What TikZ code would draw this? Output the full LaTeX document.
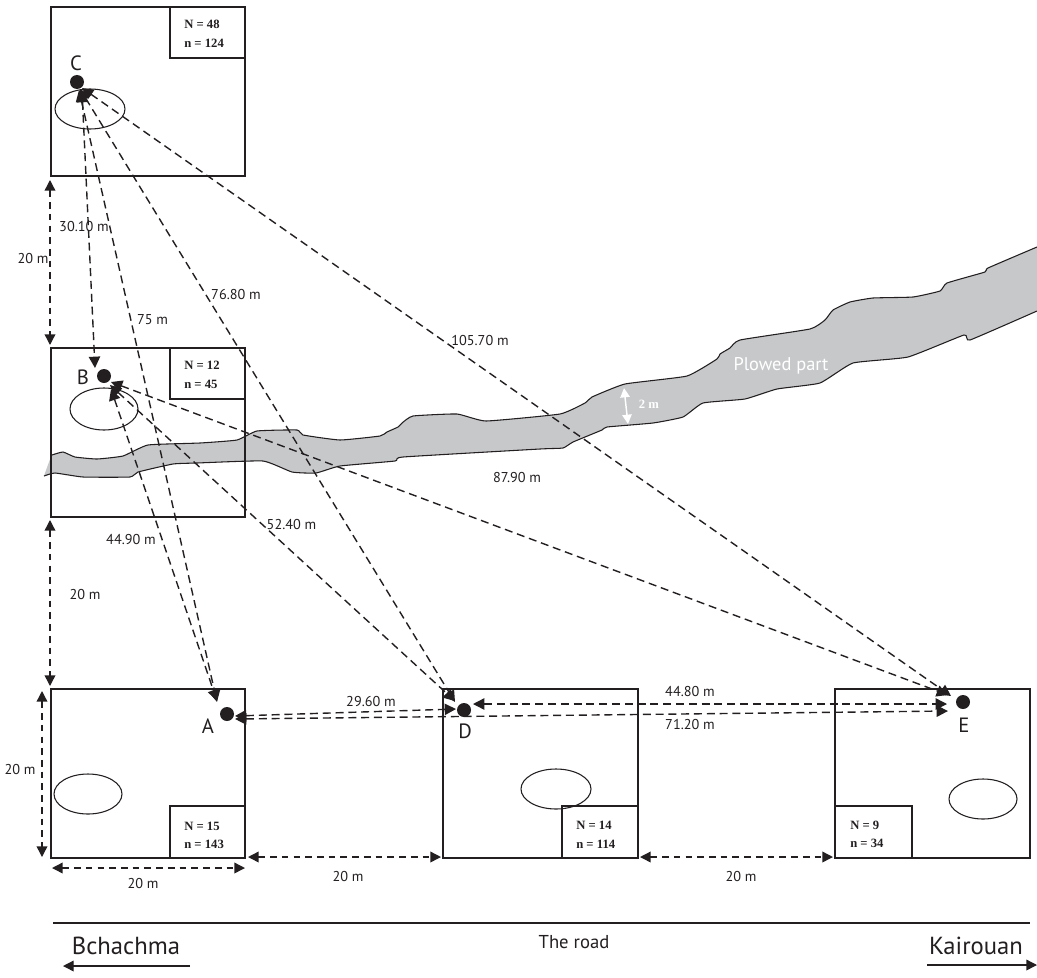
\documentclass[tikz,border=0pt]{standalone}
\usepackage{fontspec}
\setmainfont{PT Sans}
\newfontfamily\serifb{Liberation Serif}[BoldFont={Liberation Serif Bold}]
\usetikzlibrary{arrows.meta}
\definecolor{plow}{HTML}{C7C8CA}
\definecolor{ink}{HTML}{231F20}
\tikzset{
 plot box/.style={draw=ink,line width=0.85pt,fill=none},
 inset/.style={draw=ink,line width=0.85pt,fill=white},
 hole/.style={draw=ink,line width=0.8pt},
 pointdot/.style={circle,fill=ink,inner sep=0pt,minimum size=10.5pt},
 dist/.style={draw=ink,line width=1.05pt,dash pattern=on 6pt off 3.6pt,{Triangle[length=8.5pt,width=8.5pt]}-{Triangle[length=8.5pt,width=8.5pt]}},
 dim/.style={draw=ink,line width=1.05pt,dash pattern=on 5pt off 3.8pt,{Triangle[length=8pt,width=8pt]}-{Triangle[length=8pt,width=8pt]}},
 lab/.style={font=\fontsize{10.7}{13}\selectfont,text=ink,inner sep=0pt},
 letter/.style={font=\fontsize{15.5}{18}\selectfont,text=ink,inner sep=0pt},
 city/.style={font=\fontsize{18.5}{22}\selectfont,text=ink,inner sep=0pt},
 count/.style={font=\serifb\bfseries\fontsize{9.5}{14}\selectfont,text=ink,align=left,inner sep=0pt,anchor=west},
 edge line/.style={draw=ink,line width=0.8pt},
 white lab/.style={text=white,inner sep=0pt},
}
\begin{document}
\begin{tikzpicture}[x=0.75pt,y=-0.75pt]
\useasboundingbox (0,0) rectangle (1037,977);
% plowed strip
\def\toppts{(44,476) (52,455) (63,452) (75,457) (97,459) (123,456) (148,445) (200,443) (237,440) (257,431) (297,430) (303,435) (340,440) (380,436) (387,432) (398,427) (402,423) (413,416) (457,414) (486,421) (560,414) (585,403) (592,397) (625,384) (687,376) (717,359) (720,354) (730,348) (740,340) (810,329) (825,320) (833,310) (850,302) (873,298) (913,297) (940,291) (947,283) (985,272) (988,268) (1037,247)}
\def\botpts{(1037,311) (970,340) (964,335) (908,357) (853,363) (820,383) (777,389) (745,399) (703,403) (683,417) (653,423) (607,427) (602,430) (573,442) (563,448) (540,449) (403,457) (395,461) (340,466) (316,473) (292,472) (263,461) (197,463) (173,464) (138,472) (130,477) (83,477) (55,473) (44,476)}
\fill[plow] plot[smooth,tension=0.25] coordinates {\toppts} -- plot[smooth,tension=0.25] coordinates {\botpts} -- cycle;
\draw[edge line] plot[smooth,tension=0.25] coordinates {(52,455) (63,452) (75,457) (97,459) (123,456) (148,445) (200,443) (237,440) (257,431) (297,430) (303,435) (340,440) (380,436) (387,432) (398,427) (402,423) (413,416) (457,414) (486,421) (560,414) (585,403) (592,397) (625,384) (687,376) (717,359) (720,354) (730,348) (740,340) (810,329) (825,320) (833,310) (850,302) (873,298) (913,297) (940,291) (947,283) (985,272) (988,268) (1037,247)};
\draw[edge line] plot[smooth,tension=0.25] coordinates {\botpts};
% plots
\draw[plot box] (51,7) rectangle (245,176);
\draw[plot box] (51,348) rectangle (245,517);
\draw[plot box] (51,689) rectangle (245,858);
\draw[plot box] (443,689) rectangle (638,858);
\draw[plot box] (835,689) rectangle (1030,858);
\draw[inset] (170,7) rectangle (245,58);
\draw[inset] (170,348) rectangle (245,399);
\draw[inset] (170,806) rectangle (245,858);
\draw[inset] (562,806) rectangle (638,858);
\draw[inset] (835,806) rectangle (912,858);
\node[count] (cC) at (184,33.5) {N = 48\\n = 124};
\node[count] (cB) at (184,375) {N = 12\\n = 45};
\node[count] (cA) at (184,835.5) {N = 15\\n = 143};
\node[count] (cD) at (576,834.5) {N = 14\\n = 114};
\node[count] (cE) at (850,834.5) {N = 9\\n = 34};
\draw[hole] (90,109) ellipse [x radius=35,y radius=20];
\draw[hole] (104,409) ellipse [x radius=34,y radius=21];
\draw[hole] (88,794) ellipse [x radius=34,y radius=20];
\draw[hole] (556,789) ellipse [x radius=35,y radius=20];
\draw[hole] (983,799) ellipse [x radius=34,y radius=20];
\node[pointdot] (C) at (77,82) {};
\node[pointdot] (B) at (104,376) {};
\node[pointdot] (A) at (227,714) {};
\node[pointdot] (D) at (464,710) {};
\node[pointdot] (E) at (963,702) {};
% connector ends
\coordinate (c1) at (82,91);
\coordinate (c2) at (79,90);
\coordinate (c3) at (80,89);
\coordinate (c4) at (82,88);
\coordinate (b0) at (95,368);
\coordinate (b1) at (111,389);
\coordinate (b2) at (110,385);
\coordinate (b3) at (111,382);
\coordinate (a1) at (217,702);
\coordinate (a2) at (217,701);
\coordinate (a3) at (235,716);
\coordinate (a4) at (235,719);
\coordinate (d1) at (455,702);
\coordinate (d2) at (455,701);
\coordinate (d3) at (456,709);
\coordinate (d4) at (473,704);
\coordinate (e1) at (951,696);
\coordinate (e2) at (948,695);
\coordinate (e3) at (947,704);
\coordinate (e4) at (948,711);
\draw[dist] (c1) -- (b0);
\draw[dist] (c2) -- (a1);
\draw[dist] (c3) -- (d1);
\draw[dist] (c4) -- (e1);
\draw[dist] (b1) -- (a2);
\draw[dist] (b2) -- (d2);
\draw[dist] (b3) -- (e2);
\draw[dist] (a3) -- (d3);
\draw[dist] (a4) -- (e4);
\draw[dist] (d4) -- (e3);
% dimension arrows
\coordinate (v1a) at (50,180); \coordinate (v1b) at (50,345);
\coordinate (v2a) at (50,520); \coordinate (v2b) at (50,686);
\coordinate (v3a) at (42,691); \coordinate (v3b) at (42,857);
\coordinate (h1a) at (52,868); \coordinate (h1b) at (245,868);
\coordinate (h2a) at (248,857); \coordinate (h2b) at (441,857);
\coordinate (h3a) at (640,857); \coordinate (h3b) at (833,857);
\draw[dim] (v1a) -- (v1b);
\draw[dim] (v2a) -- (v2b);
\draw[dim] (v3a) -- (v3b);
\draw[dim] (h1a) -- (h1b);
\draw[dim] (h2a) -- (h2b);
\draw[dim] (h3a) -- (h3b);
% road
\coordinate (r1) at (53,923); \coordinate (r2) at (1030,923);
\draw[edge line] (r1) -- (r2);
\coordinate (ba) at (190,966); \coordinate (bb) at (63,966);
\coordinate (ka) at (927,965); \coordinate (kb) at (1037,965);
\draw[edge line,line width=1pt,-{Triangle[length=8pt,width=8pt]}] (ba) -- (bb);
\draw[edge line,line width=1pt,-{Triangle[length=8pt,width=8pt]}] (ka) -- (kb);
% labels
\foreach \n/\x/\y/\t in {l1/33/259/20 m,l2/84/227/30.10 m,l3/152.5/320/75 m,l4/236/295/76.80 m,l5/480/341/105.70 m,l6/517/478/87.90 m,l7/291.5/524/52.40 m,l8/131/539/44.90 m,l9/85/594/20 m,l10/371/701/29.60 m,l11/690/691/44.80 m,l12/690/724/71.20 m,l13/20/769/20 m,l14/143/883/20 m,l15/348/876/20 m,l16/741/876/20 m}
 \node[lab] (\n) at (\x,\y) {\t};
\node[lab,font=\fontsize{14}{16}\selectfont] (l17) at (574,942) {The road};
\foreach \n/\x/\y/\t in {tA/208/726/A,tB/83/377/B,tC/76/63/C,tD/465/731/D,tE/964/725/E}
 \node[letter] (\n) at (\x,\y) {\t};
\node[city] (bch) at (126,946) {Bchachma};
\node[city] (kai) at (976,946) {Kairouan};
\node[white lab,font=\fontsize{13.8}{16}\selectfont] (plowed) at (781,366) {Plowed part};
\coordinate (w1) at (624,388); \coordinate (w2) at (628,424);
\draw[white,line width=1.1pt,{Triangle[length=7pt,width=7pt]}-{Triangle[length=7pt,width=7pt]}] (w1) -- (w2);
\node[white lab,font=\serifb\bfseries\fontsize{9.5}{11}\selectfont] (two) at (649,404) {2 m};
\end{tikzpicture}
\end{document}
